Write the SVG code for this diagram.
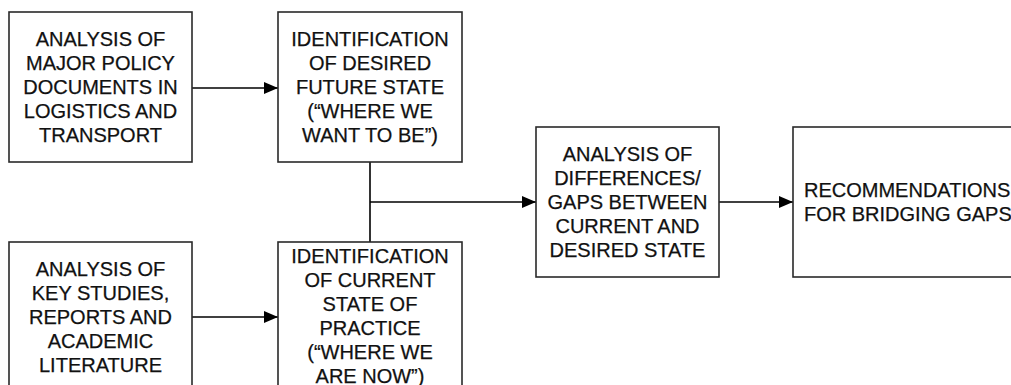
<svg xmlns="http://www.w3.org/2000/svg" width="1011" height="385" viewBox="0 0 1011 385">
<style>
.box{fill:#fff;stroke:#2a2a2a;stroke-width:1.6}
.t{font-family:"Liberation Sans",Arial,sans-serif;font-size:20px;fill:#111;stroke:#111;stroke-width:0.25;text-anchor:middle}
.l{fill:none;stroke:#000;stroke-width:1.6}
</style>
<defs>
<marker id="ah" viewBox="0 0 14 12" refX="14" refY="6" markerWidth="14" markerHeight="12" markerUnits="userSpaceOnUse" orient="auto">
<path d="M0,0 L14,6 L0,12 Z" fill="#000"/>
</marker>
</defs>
<rect width="1011" height="385" fill="#fff"/>
<g id="connectors">
<line class="l" x1="192" y1="88" x2="278" y2="88" marker-end="url(#ah)"/>
<line class="l" x1="192" y1="317" x2="278" y2="317" marker-end="url(#ah)"/>
<line class="l" x1="370" y1="162" x2="370" y2="242"/>
<line class="l" x1="370" y1="202" x2="536" y2="202" marker-end="url(#ah)"/>
<line class="l" x1="719" y1="202" x2="793" y2="202" marker-end="url(#ah)"/>
</g>
<g id="n1">
<rect class="box" x="9" y="12" width="183" height="150"/>
<text class="t"><tspan x="100.5" y="46">ANALYSIS OF</tspan><tspan x="100.5" y="70">MAJOR POLICY</tspan><tspan x="100.5" y="94">DOCUMENTS IN</tspan><tspan x="100.5" y="118">LOGISTICS AND</tspan><tspan x="100.5" y="142">TRANSPORT</tspan></text>
</g>
<g id="n2">
<rect class="box" x="278" y="12" width="184" height="150"/>
<text class="t"><tspan x="370" y="46">IDENTIFICATION</tspan><tspan x="370" y="70">OF DESIRED</tspan><tspan x="370" y="94">FUTURE STATE</tspan><tspan x="370" y="118">(“WHERE WE</tspan><tspan x="370" y="142">WANT TO BE”)</tspan></text>
</g>
<g id="n3">
<rect class="box" x="9" y="242" width="183" height="150"/>
<text class="t"><tspan x="100.5" y="276">ANALYSIS OF</tspan><tspan x="100.5" y="300">KEY STUDIES,</tspan><tspan x="100.5" y="324">REPORTS AND</tspan><tspan x="100.5" y="348">ACADEMIC</tspan><tspan x="100.5" y="372">LITERATURE</tspan></text>
</g>
<g id="n4">
<rect class="box" x="278" y="242" width="184" height="160"/>
<text class="t"><tspan x="370" y="263">IDENTIFICATION</tspan><tspan x="370" y="287">OF CURRENT</tspan><tspan x="370" y="311">STATE OF</tspan><tspan x="370" y="335">PRACTICE</tspan><tspan x="370" y="359">(“WHERE WE</tspan><tspan x="370" y="383">ARE NOW”)</tspan></text>
</g>
<g id="n5">
<rect class="box" x="536" y="127" width="183" height="150"/>
<text class="t"><tspan x="627.5" y="161">ANALYSIS OF</tspan><tspan x="627.5" y="185">DIFFERENCES/</tspan><tspan x="627.5" y="209">GAPS BETWEEN</tspan><tspan x="627.5" y="233">CURRENT AND</tspan><tspan x="627.5" y="257">DESIRED STATE</tspan></text>
</g>
<g id="n6">
<rect class="box" x="793" y="127" width="260" height="150"/>
<text class="t" style="text-anchor:start"><tspan x="804" y="197">RECOMMENDATIONS</tspan><tspan x="804" y="221">FOR BRIDGING GAPS</tspan></text>
</g>
</svg>
